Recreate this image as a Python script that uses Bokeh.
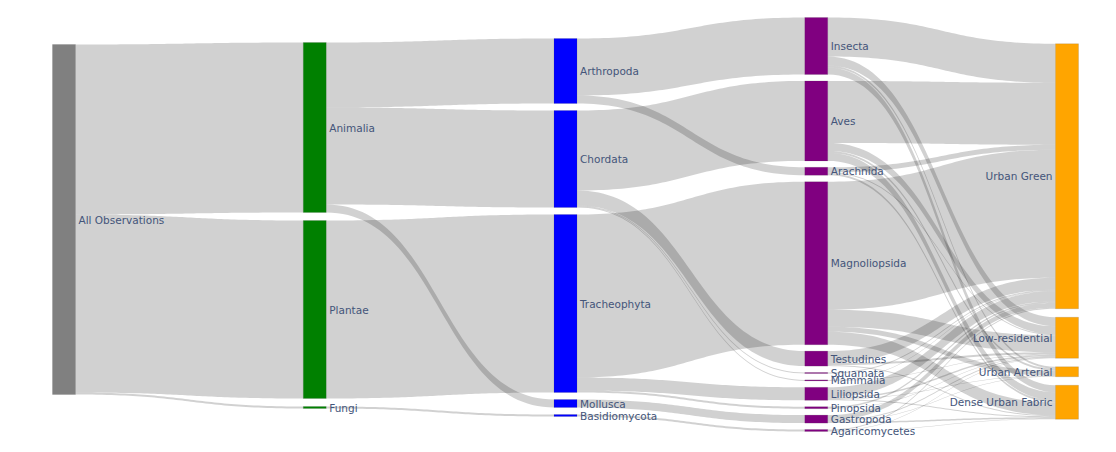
import numpy as np
from bokeh.plotting import figure
from bokeh.models import Range1d, ColumnDataSource
from bokeh.embed import file_html
from bokeh.resources import INLINE
from bokeh.core.properties import value

# ---------------- data ----------------
node_names = [
    "All Observations",
    "Animalia", "Plantae", "Fungi",
    "Arthropoda", "Chordata", "Tracheophyta", "Mollusca", "Basidiomycota",
    "Insecta", "Aves", "Arachnida", "Magnoliopsida", "Testudines", "Squamata",
    "Mammalia", "Liliopsida", "Pinopsida", "Gastropoda", "Agaricomycetes",
    "Urban Green", "Low-residential", "Urban Arterial", "Dense Urban Fabric",
]
node_levels = [0, 1, 1, 1, 2, 2, 2, 2, 2,
               3, 3, 3, 3, 3, 3, 3, 3, 3, 3, 3,
               4, 4, 4, 4]
level_colors = ["#808080", "#008000", "#0000ff", "#800080", "#ffa500"]

link_source = [
    "All Observations", "All Observations", "All Observations",
    "Animalia", "Animalia", "Animalia", "Plantae", "Fungi",
    "Arthropoda", "Arthropoda",
    "Chordata", "Chordata", "Chordata", "Chordata",
    "Tracheophyta", "Tracheophyta", "Tracheophyta",
    "Mollusca", "Basidiomycota",
    "Insecta", "Insecta", "Insecta", "Insecta",
    "Aves", "Aves", "Aves", "Aves",
    "Arachnida", "Arachnida", "Arachnida",
    "Magnoliopsida", "Magnoliopsida", "Magnoliopsida", "Magnoliopsida",
    "Testudines", "Testudines", "Testudines",
    "Squamata",
    "Mammalia", "Mammalia",
    "Liliopsida", "Liliopsida", "Liliopsida", "Liliopsida",
    "Pinopsida", "Pinopsida",
    "Gastropoda", "Gastropoda", "Gastropoda", "Gastropoda",
    "Agaricomycetes", "Agaricomycetes", "Agaricomycetes",
]
link_target = [
    "Animalia", "Plantae", "Fungi",
    "Arthropoda", "Chordata", "Mollusca", "Tracheophyta", "Basidiomycota",
    "Insecta", "Arachnida",
    "Aves", "Testudines", "Squamata", "Mammalia",
    "Magnoliopsida", "Liliopsida", "Pinopsida",
    "Gastropoda", "Agaricomycetes",
    "Urban Green", "Low-residential", "Urban Arterial", "Dense Urban Fabric",
    "Urban Green", "Low-residential", "Urban Arterial", "Dense Urban Fabric",
    "Urban Green", "Low-residential", "Dense Urban Fabric",
    "Urban Green", "Low-residential", "Urban Arterial", "Dense Urban Fabric",
    "Urban Green", "Low-residential", "Dense Urban Fabric",
    "Urban Green",
    "Urban Green", "Low-residential",
    "Urban Green", "Low-residential", "Urban Arterial", "Dense Urban Fabric",
    "Urban Green", "Low-residential",
    "Urban Green", "Low-residential", "Urban Arterial", "Dense Urban Fabric",
    "Urban Green", "Low-residential", "Dense Urban Fabric",
]
link_value = [
    170, 178, 2,
    65, 97, 8, 178, 2,
    57, 8,
    80, 15, 1, 1,
    163, 13, 2,
    8, 2,
    39, 9, 2, 7,
    62, 8, 2, 8,
    5, 1, 2,
    128, 17, 5, 13,
    12, 2, 1,
    1,
    0.5, 0.5,
    10, 1.5, 0.5, 1,
    1.5, 0.5,
    5, 1, 0.5, 1.5,
    1, 0.5, 0.5,
]

# ---------------- layout ----------------
W, H = 1100, 444
x_first, x_last = 52, 1055
node_w = 23
col_pad = [0, 8, 7, 6.4, 8.5]
col_center = [219, 225, 227, 224, 231]
max_height = 350

idx = {n: i for i, n in enumerate(node_names)}
n_nodes = len(node_names)
v_in = np.zeros(n_nodes)
v_out = np.zeros(n_nodes)
for s, t, v in zip(link_source, link_target, link_value):
    v_out[idx[s]] += v
    v_in[idx[t]] += v
node_val = np.maximum(v_in, v_out)

n_levels = max(node_levels) + 1
col_sum = [sum(node_val[i] for i in range(n_nodes) if node_levels[i] == c) for c in range(n_levels)]
ky = max_height / max(col_sum)
step = (x_last - x_first) / (n_levels - 1)

x0 = np.zeros(n_nodes)
y0 = np.zeros(n_nodes)
y1 = np.zeros(n_nodes)
for c in range(n_levels):
    members = [i for i in range(n_nodes) if node_levels[i] == c]
    total = col_sum[c] * ky + col_pad[c] * (len(members) - 1)
    y = col_center[c] - total / 2
    for i in members:
        x0[i] = x_first + c * step
        y0[i] = y
        y1[i] = y + node_val[i] * ky
        y = y1[i] + col_pad[c]
x1 = x0 + node_w

# link positions
links = list(zip([idx[s] for s in link_source], [idx[t] for t in link_target], link_value))
sy = {}
ty = {}
out_off = {i: y0[i] for i in range(n_nodes)}
in_off = {i: y0[i] for i in range(n_nodes)}
for k in sorted(range(len(links)), key=lambda k: (links[k][0], y0[links[k][1]])):
    s, t, v = links[k]
    sy[k] = out_off[s]
    out_off[s] += v * ky
for k in sorted(range(len(links)), key=lambda k: (links[k][1], y0[links[k][0]])):
    s, t, v = links[k]
    ty[k] = in_off[t]
    in_off[t] += v * ky

tt = np.linspace(0, 1, 60)
def bez(a, b, c, d):
    return (1 - tt) ** 3 * a + 3 * (1 - tt) ** 2 * tt * b + 3 * (1 - tt) * tt ** 2 * c + tt ** 3 * d

lxs, lys = [], []
for k, (s, t, v) in enumerate(links):
    xs_, xt_ = x1[s], x0[t]
    xm = (xs_ + xt_) / 2
    h = v * ky
    top_x = bez(xs_, xm, xm, xt_)
    top_y = bez(sy[k], sy[k], ty[k], ty[k])
    bot_y = bez(sy[k] + h, sy[k] + h, ty[k] + h, ty[k] + h)
    lxs.append(list(top_x) + list(top_x[::-1]))
    lys.append(list(top_y) + list(bot_y[::-1]))

# ---------------- plot ----------------
p = figure(width=W, height=H, x_range=Range1d(0, W), y_range=Range1d(H, 0),
           output_backend="svg", toolbar_location=None, min_border=0,
           x_axis_type=None, y_axis_type=None)
p.grid.visible = False
p.outline_line_color = None
p.background_fill_color = "white"

p.patches(xs=lxs, ys=lys, fill_color="black", fill_alpha=0.18, line_color=None)

node_src = ColumnDataSource(dict(
    left=x0, right=x1, top=y0, bottom=y1,
    color=[level_colors[c] for c in node_levels],
))
p.quad(left="left", right="right", top="top", bottom="bottom", source=node_src,
       fill_color="color", line_color="#444444", line_width=0.3, line_alpha=0.5)

last = n_levels - 1
lab_x, lab_y, lab_t, lab_a = [], [], [], []
for i in range(n_nodes):
    lab_t.append(node_names[i])
    lab_y.append((y0[i] + y1[i]) / 2)
    if node_levels[i] == last:
        lab_x.append(x0[i] - 3)
        lab_a.append("right")
    else:
        lab_x.append(x1[i] + 3)
        lab_a.append("left")
lab_src = ColumnDataSource(dict(x=lab_x, y=lab_y, text=lab_t, align=lab_a))
p.text(x="x", y="y", text="text", source=lab_src, text_align="align",
       text_baseline="middle", text_font=value("DejaVu Sans"),
       text_font_size="10.5px", text_color="#44557a")

open("out.html", "w").write(file_html(p, INLINE))
